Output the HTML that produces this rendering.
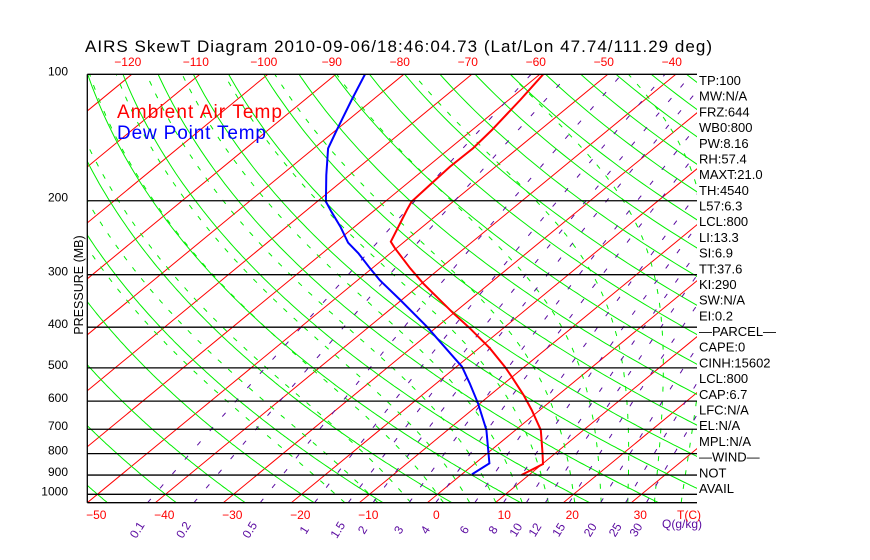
<!DOCTYPE html>
<html><head><meta charset="utf-8">
<style>
html,body{margin:0;padding:0;background:#fff;}
svg{display:block;font-family:"Liberation Sans",sans-serif;}
</style></head>
<body>
<svg id="chart" width="870" height="560" viewBox="0 0 870 560" xmlns="http://www.w3.org/2000/svg">
<defs><clipPath id="plotclip"><rect x="87.3" y="74.3" width="609.7" height="428.4"/></clipPath></defs>
<rect width="870" height="560" fill="#fff"/>
<text x="85" y="52" font-size="17" textLength="627" lengthAdjust="spacing" fill="#000">AIRS SkewT Diagram 2010-09-06/18:46:04.73 (Lat/Lon 47.74/111.29 deg)</text>
<g id="grid" clip-path="url(#plotclip)"></g>
<g id="profiles" clip-path="url(#plotclip)"></g>
<g id="axes"></g>
<text x="117" y="118" font-size="19" fill="#ff0000" textLength="165" lengthAdjust="spacing">Ambient Air Temp</text>
<text x="117" y="139" font-size="19" fill="#0000ff" textLength="149" lengthAdjust="spacing">Dew Point Temp</text>
<text transform="translate(83,285) rotate(-90)" text-anchor="middle" font-size="12.5" fill="#000">PRESSURE (MB)</text>
<g id="side"></g>
</svg>
<script>
const tempP=[100,115.1,135.7,150.1,166,183.5,201,210.4,250.4,259.6,289.7,314.6,370.7,402.5,449,496.8,524.8,580,630,703,796,847,899.5];
const tempT=[-59.5,-58.3,-57.1,-56.6,-56.7,-56.4,-56.1,-55.3,-52.0,-50.2,-44.4,-39.8,-30.0,-24.9,-18.4,-12.9,-10.1,-5.1,-1.2,3.7,8.0,10.1,8.9];
const dewP=[100,115.1,135.7,150.1,173.7,201,212.4,230.6,251.8,266.8,289.7,308.9,344.6,399,433.1,496.8,544.1,607.3,703,843.8,896.6];
const dewT=[-85.7,-83.1,-79.9,-77.9,-73.4,-68.7,-66.1,-62.1,-58.1,-54.7,-50.3,-46.8,-40.2,-31.5,-26.9,-19.2,-15.1,-10.3,-4.3,2.1,1.5];
const pressureLevels=[100,200,300,400,500,600,700,800,900,1000];
const topTempTicks=[-120,-110,-100,-90,-80,-70,-60,-50,-40];
const bottomTempTicks=[-50,-40,-30,-20,-10,0,10,20,30];
const mixingRatios=[0.1,0.2,0.5,1,1.5,2,3,4,6,8,10,12,15,20,25,30];
const moistStarts=[-15,-10,-5,0,4,8,12,16,20,24,28,32,36,40,44];
const sideLabels=["TP:100","MW:N/A","FRZ:644","WB0:800","PW:8.16","RH:57.4","MAXT:21.0","TH:4540","L57:6.3","LCL:800","LI:13.3","SI:6.9","TT:37.6","KI:290","SW:N/A","EI:0.2","\u2014PARCEL\u2014","CAPE:0","CINH:15602","LCL:800","CAP:6.7","LFC:N/A","EL:N/A","MPL:N/A","\u2014WIND\u2014","NOT","AVAIL"];

const NS="http://www.w3.org/2000/svg";
const X0=427.3,PX=6.8,SK=1.215,YB=502.7,YT=74.3,DEC=420,XL=87.3,XR=697;
const PB=100*Math.pow(10,(YB-YT)/DEC);
function yP(p){return YT+DEC*Math.log10(p/100);}
function xT(T,p){return X0+PX*T+SK*(YB-yP(p));}
function mk(tag,attrs,parent){const e=document.createElementNS(NS,tag);for(const k in attrs)e.setAttribute(k,attrs[k]);parent.appendChild(e);return e;}
function pts(arr){return arr.map(a=>a[0].toFixed(1)+","+a[1].toFixed(1)).join(" ");}
const grid=document.getElementById('grid'),prof=document.getElementById('profiles'),axes=document.getElementById('axes'),side=document.getElementById('side');
function pList(){const r=[];for(let p=PB;p>=95;p-=5)r.push(p);r.push(95);return r;}
const PL=pList();

for(let T=-140;T<=50;T+=10){
  const l=mk('line',{x1:xT(T,PB),y1:YB,x2:xT(T,95),y2:yP(95),stroke:'#ff0000','stroke-width':1},grid);
  
  
}
for(let th=-60;th<=200;th+=10){
  const K=th+273.15;
  const a=PL.map(p=>{const T=K*Math.pow(p/1000,0.2857)-273.15;return [xT(T,p),yP(p)];});
  const l=mk('polyline',{points:pts(a),fill:'none',stroke:'#00ee00','stroke-width':1},grid);
  
  
}
function es(T){return 6.112*Math.exp(17.67*T/(T+243.5));}
function dTdp(T,p){const Tk=T+273.15,e=es(T),rs=0.622*e/(p-e),Lv=2.5e6,Rd=287,cp=1004;
  return (Rd*Tk+Lv*rs)/(p*(cp+Lv*Lv*rs*0.622/(Rd*Tk*Tk)));}
moistStarts.forEach(T0=>{
  const a=[];let T=T0;
  let Td=T0;for(let p=1000;p<PB;p+=2){Td+=dTdp(Td,p)*2;} a.push([xT(Td,PB),yP(PB)]);
  a.push([xT(T0,1000),yP(1000)]);
  for(let p=1000;p>100;p-=2){T-=dTdp(T,p)*2;a.push([xT(T,p-2),yP(p-2)]);}
  const l=mk('polyline',{points:pts(a),fill:'none',stroke:'#00ee00','stroke-width':1,'stroke-dasharray':'5,9'},grid);
  
  
});
function tdW(w,p){const e=w*p/(622+w),L=Math.log(e/6.112);return 243.5*L/(17.67-L);}
mixingRatios.forEach(w=>{
  const a=PL.map(p=>[xT(tdW(w,p),p),yP(p)]);
  const l=mk('polyline',{points:pts(a),fill:'none',stroke:'#5a0aa0','stroke-width':1,'stroke-dasharray':'5,14'},grid);
  
  
  const x=xT(tdW(w,PB),PB)-7;
  const t=mk('text',{transform:'translate('+x.toFixed(1)+',532) rotate(-58)','text-anchor':'middle','font-size':12,fill:'#5a0aa0'},axes);
  t.textContent=String(w);
  
  
});
{const t=mk('text',{x:662,y:528,'font-size':12,fill:'#5a0aa0'},axes);t.textContent='Q(g/kg)';

}

pressureLevels.forEach(p=>{
  const y=yP(p);
  const l=mk('line',{x1:XL,y1:y,x2:XR,y2:y,stroke:'#000','stroke-width':1.3},axes);
  
  
  const t=mk('text',{x:68,y:y+1,'text-anchor':'end','font-size':12,fill:'#000'},axes);
  t.textContent=String(p);
  
  
});
{const l=mk('line',{x1:XL,y1:YT,x2:XL,y2:YB,stroke:'#000','stroke-width':1.3},axes);


const b=mk('line',{x1:XL,y1:YB,x2:XR,y2:YB,stroke:'#000','stroke-width':1.3},axes);

}

topTempTicks.forEach(T=>{
  const t=mk('text',{x:xT(T,100)-4,y:66,'text-anchor':'middle','font-size':12,fill:'#ff0000'},axes);
  t.textContent=(T<0?'\u2212':'')+Math.abs(T);
  
  
});
bottomTempTicks.forEach(T=>{
  const t=mk('text',{x:xT(T,PB)+9,y:519,'text-anchor':'middle','font-size':12,fill:'#ff0000'},axes);
  t.textContent=(T<0?'\u2212':'')+Math.abs(T);
  
  
});
{const t=mk('text',{x:689,y:519,'text-anchor':'middle','font-size':12,fill:'#ff0000'},axes);t.textContent='T(C)';

}

{const a=tempP.map((p,i)=>[xT(tempT[i],p),yP(p)]);
const l=mk('polyline',{points:pts(a),fill:'none',stroke:'#ff0000','stroke-width':2},prof);


const b=dewP.map((p,i)=>[xT(dewT[i],p),yP(p)]);
const d=mk('polyline',{points:pts(b),fill:'none',stroke:'#0000ff','stroke-width':2},prof);

}

sideLabels.forEach((s,i)=>{
  const t=mk('text',{x:699,y:85+i*15.69,'font-size':13,fill:'#000'},side);
  t.textContent=s;
  
  
});
</script>
</body></html>
